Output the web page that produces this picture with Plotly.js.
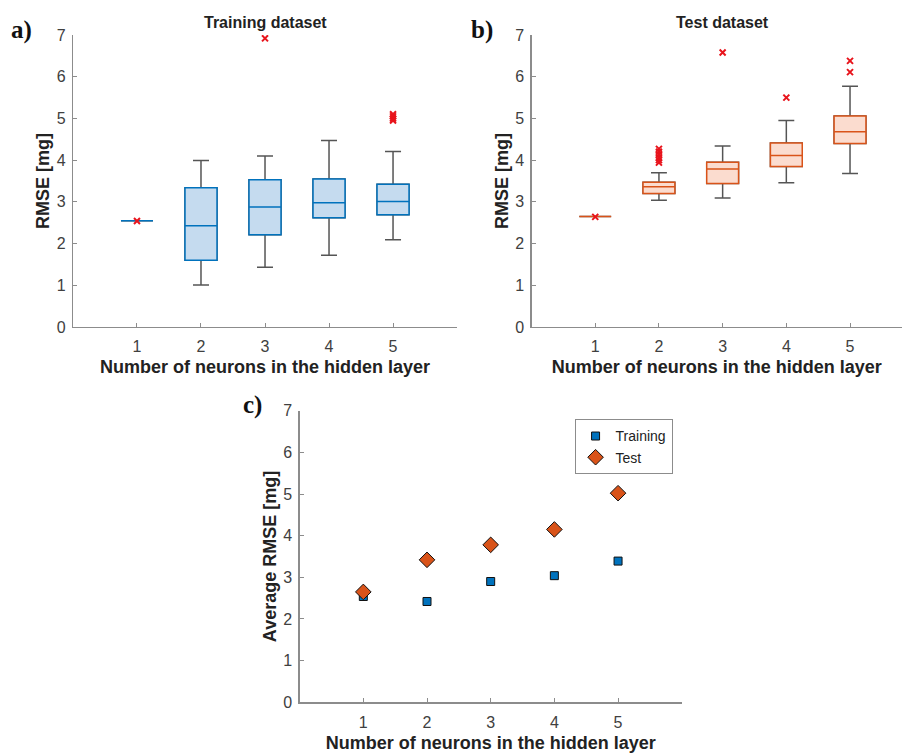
<!DOCTYPE html>
<html><head><meta charset="utf-8">
<script src="https://cdn.plot.ly/plotly-3.0.1.min.js"></script>
<style>html,body{margin:0;padding:0;background:#fff}#chart{width:902px;height:753px}</style>
</head><body><div id="chart"></div><script>
// ---- data ----
const neurons = [1, 2, 3, 4, 5];
const tickLabels = ['1', '2', '3', '4', '5'];
const yTicks = [0, 1, 2, 3, 4, 5, 6, 7];

// a) Training dataset box statistics
const trainQ1 = [2.55, 1.60, 2.21, 2.62, 2.69];
const trainMedian = [2.55, 2.43, 2.88, 2.98, 3.01];
const trainQ3 = [2.55, 3.34, 3.53, 3.55, 3.42];
const trainLower = [2.55, 1.01, 1.43, 1.72, 2.09];
const trainUpper = [2.55, 3.99, 4.10, 4.47, 4.21];
const trainOutX = [1, 3, 5, 5, 5, 5];
const trainOutY = [2.54, 6.92, 4.95, 5.00, 5.05, 5.10];

// b) Test dataset box statistics
const testQ1 = [2.65, 3.20, 3.44, 3.85, 4.40];
const testMedian = [2.65, 3.36, 3.79, 4.11, 4.68];
const testQ3 = [2.65, 3.47, 3.95, 4.41, 5.06];
const testLower = [2.65, 3.04, 3.09, 3.46, 3.68];
const testUpper = [2.65, 3.70, 4.34, 4.95, 5.77];
const testOutX = [1, 2, 2, 2, 2, 2, 2, 3, 4, 5, 5];
const testOutY = [2.64, 3.94, 4.00, 4.06, 4.13, 4.20, 4.27, 6.58, 5.50, 6.11, 6.38];

// c) Average RMSE
const avgTraining = [2.54, 2.42, 2.90, 3.04, 3.39];
const avgTest = [2.65, 3.42, 3.78, 4.15, 5.02];

// ---- styling ----
const FONT = 'Liberation Sans, Arial, Helvetica, sans-serif';
const SERIF = 'Liberation Serif, Times New Roman, serif';
const BLUE = '#0072BD', BLUE_FILL = '#c5dbef';
const ORANGE = '#D95319', ORANGE_FILL = '#fbdccf';
const WHISK = '#555555';

function boxPair(q1, med, q3, lo, hi, line, fill, xa, ya) {
  const whisk = {
    type: 'box', x: neurons, q1: q1, median: med, q3: q3,
    lowerfence: lo, upperfence: hi, width: 0.5, whiskerwidth: 0.5,
    line: {color: WHISK, width: 1.5}, fillcolor: fill,
    boxpoints: false, showlegend: false, hoverinfo: 'skip', xaxis: xa, yaxis: ya
  };
  const box = {
    type: 'box', x: neurons, q1: q1, median: med, q3: q3,
    lowerfence: q1, upperfence: q3, width: 0.5, whiskerwidth: 0,
    line: {color: line, width: 1.5}, fillcolor: fill,
    boxpoints: false, showlegend: false, xaxis: xa, yaxis: ya
  };
  return [whisk, box];
}
function outliers(xs, ys, xa, ya) {
  return {
    type: 'scatter', mode: 'markers', x: xs, y: ys, xaxis: xa, yaxis: ya,
    showlegend: false,
    marker: {symbol: 'x-thin', size: 6, color: '#e8141c', line: {color: '#e8141c', width: 2}}
  };
}

const data = [
  ...boxPair(trainQ1, trainMedian, trainQ3, trainLower, trainUpper, BLUE, BLUE_FILL, 'x', 'y'),
  outliers(trainOutX, trainOutY, 'x', 'y'),
  ...boxPair(testQ1, testMedian, testQ3, testLower, testUpper, ORANGE, ORANGE_FILL, 'x2', 'y2'),
  outliers(testOutX, testOutY, 'x2', 'y2'),
  {type: 'scatter', mode: 'markers', name: 'Training', x: neurons, y: avgTraining, xaxis: 'x3', yaxis: 'y3',
   marker: {symbol: 'square', size: 8, color: BLUE, line: {color: '#111', width: 1}}},
  {type: 'scatter', mode: 'markers', name: 'Test', x: neurons, y: avgTest, xaxis: 'x3', yaxis: 'y3',
   marker: {symbol: 'diamond', size: 12, color: ORANGE, line: {color: '#111', width: 1}}}
];

function xAx(domain, range, anchor) {
  return {
    domain: domain, range: range, anchor: anchor,
    tickvals: neurons, ticktext: tickLabels,
    showline: true, linecolor: '#8c8c8c', linewidth: 1.2,
    ticks: 'inside', ticklen: 4, tickcolor: '#8c8c8c', tickwidth: 1,
    showgrid: false, zeroline: false, ticklabelstandoff: 5,
    tickfont: {family: FONT, size: 16, color: '#404040'},
    title: {text: 'Number of neurons in the hidden layer', standoff: 6,
            font: {family: FONT, size: 18, color: '#222', weight: 'bold'}}
  };
}
function yAx(domain, anchor, title) {
  return {
    domain: domain, range: [0, 7], anchor: anchor,
    tickvals: yTicks,
    showline: true, linecolor: '#8c8c8c', linewidth: 1.2,
    ticks: 'inside', ticklen: 4, tickcolor: '#8c8c8c', tickwidth: 1,
    showgrid: false, zeroline: false, ticklabelstandoff: 3,
    tickfont: {family: FONT, size: 16, color: '#404040'},
    title: {text: title, standoff: 2,
            font: {family: FONT, size: 18, color: '#222', weight: 'bold'}}
  };
}

const layout = {
  width: 902, height: 753,
  margin: {l: 0, r: 0, t: 0, b: 0},
  paper_bgcolor: '#fff', plot_bgcolor: '#fff',
  boxmode: 'overlay',
  showlegend: true,
  font: {family: FONT},
  xaxis: xAx([0.0809, 0.5067], [0, 6], 'y'),
  yaxis: yAx([0.5657, 0.9535], 'x', 'RMSE [mg]'),
  xaxis2: xAx([0.5893, 1.0], [0, 5.816], 'y2'),
  yaxis2: yAx([0.5657, 0.9535], 'x2', 'RMSE [mg]'),
  xaxis3: xAx([0.3322, 0.7558], [0, 6], 'y3'),
  yaxis3: yAx([0.0673, 0.4546], 'x3', 'Average RMSE [mg]'),
  legend: {
    x: 0.637, y: 0.443, xanchor: 'left', yanchor: 'top',
    bgcolor: '#fff', bordercolor: '#8c8c8c', borderwidth: 1,
    font: {family: FONT, size: 14, color: '#222'},
    itemwidth: 30, tracegroupgap: 0
  },
  annotations: [
    {text: '<b>Training dataset</b>', x: 265 / 902, y: 1 - 23 / 753, xref: 'paper', yref: 'paper',
     showarrow: false, xanchor: 'center', yanchor: 'middle', font: {family: FONT, size: 16, color: '#222'}},
    {text: '<b>Test dataset</b>', x: 722.7 / 902, y: 1 - 23 / 753, xref: 'paper', yref: 'paper',
     showarrow: false, xanchor: 'center', yanchor: 'middle', font: {family: FONT, size: 16, color: '#222'}},
    {text: '<b>a)</b>', x: 9 / 902, y: 1 - 30 / 753, xref: 'paper', yref: 'paper',
     showarrow: false, xanchor: 'left', yanchor: 'middle', font: {family: SERIF, size: 25, color: '#111'}},
    {text: '<b>b)</b>', x: 469 / 902, y: 1 - 30 / 753, xref: 'paper', yref: 'paper',
     showarrow: false, xanchor: 'left', yanchor: 'middle', font: {family: SERIF, size: 25, color: '#111'}},
    {text: '<b>c)</b>', x: 241 / 902, y: 1 - 405 / 753, xref: 'paper', yref: 'paper',
     showarrow: false, xanchor: 'left', yanchor: 'middle', font: {family: SERIF, size: 25, color: '#111'}}
  ]
};

Plotly.newPlot('chart', data, layout, {displayModeBar: false, staticPlot: true});
</script></body></html>
